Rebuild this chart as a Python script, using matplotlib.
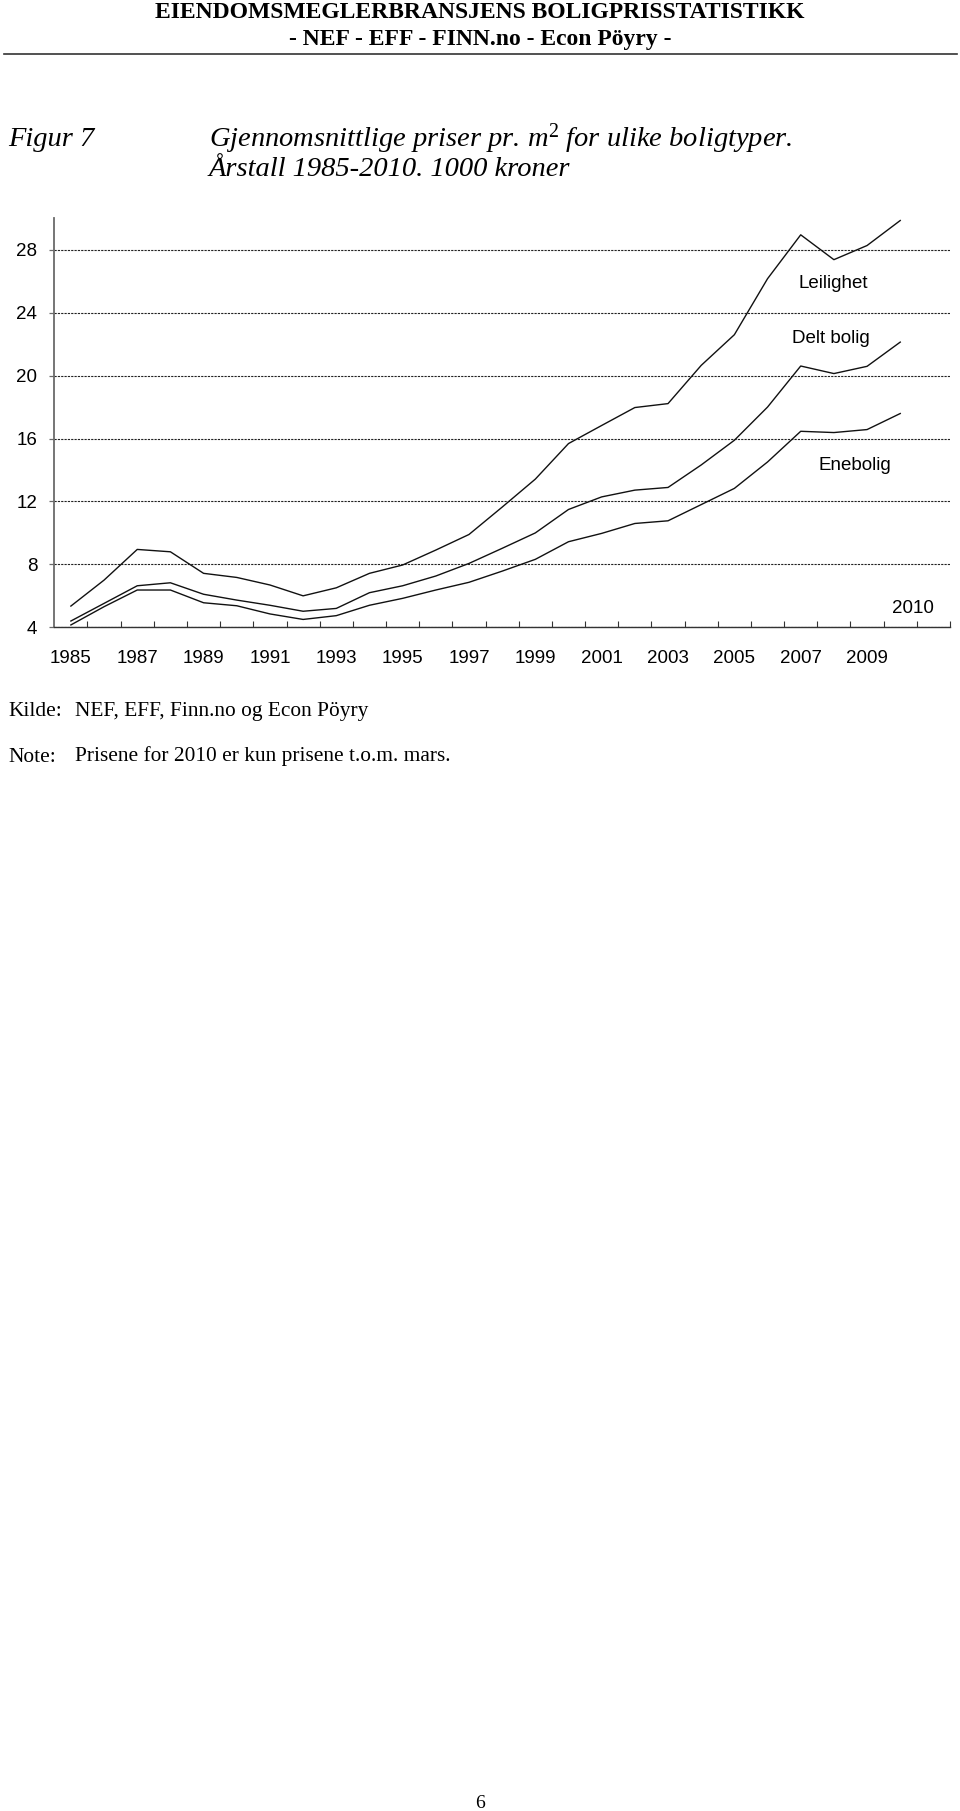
import numpy as np
import matplotlib
matplotlib.use("Agg")
import matplotlib.pyplot as plt

plt.rcParams['mathtext.fontset'] = 'custom'
plt.rcParams['mathtext.rm'] = 'Liberation Serif'
plt.rcParams['mathtext.it'] = 'Liberation Serif:italic'
plt.rcParams['mathtext.default'] = 'rm'

# data (1000 kr per m2)
years = list(range(1985, 2011))
leilighet = [5.35, 7.0, 8.95, 8.8, 7.43, 7.17, 6.69, 6.0, 6.51, 7.43, 7.96, 8.91, 9.9,
             11.64, 13.42, 15.68, 16.83, 17.97, 18.22, 20.65, 22.6, 26.16, 28.95, 27.37,
             28.27, 29.86]
delt_bolig = [4.4, 5.52, 6.64, 6.83, 6.1, 5.73, 5.40, 5.02, 5.2, 6.2, 6.64, 7.26, 8.06,
              9.02, 10.0, 11.49, 12.29, 12.72, 12.89, 14.32, 15.89, 18.0, 20.61, 20.13,
              20.59, 22.13]
enebolig = [4.15, 5.31, 6.37, 6.37, 5.56, 5.37, 4.85, 4.5, 4.74, 5.4, 5.84, 6.37, 6.86,
            7.57, 8.32, 9.44, 9.97, 10.6, 10.77, 11.8, 12.83, 14.51, 16.46, 16.38,
            16.57, 17.59]
yticks = [4, 8, 12, 16, 20, 24, 28]
xlabels = [str(y) for y in years[:-1:2]]

W, H = 960, 1811
fig = plt.figure(figsize=(W / 100, H / 100), dpi=100)

serif = 'Liberation Serif'
sans = 'Liberation Sans'

# page header
fig.text(0.5, 1 - 13 / H, 'EIENDOMSMEGLERBRANSJENS BOLIGPRISSTATISTIKK', ha='center',
         va='center', family=serif, weight='bold', fontsize=17)
fig.text(0.5, 1 - 39 / H, '- NEF - EFF - FINN.no - Econ Pöyry -', ha='center',
         va='center', family=serif, weight='bold', fontsize=17)
fig.add_artist(plt.Line2D([4 / W, 957 / W], [1 - 54 / H, 1 - 54 / H], color='#333333', lw=1.2))

# figure caption
fig.text(8 / W, 1 - 146.5 / H, 'Figur 7', ha='left', va='baseline', family=serif,
         style='italic', fontsize=20.5)
fig.text(209 / W, 1 - 146.5 / H, 'Gjennomsnittlige priser pr. m$^2$ for ulike boligtyper.',
         ha='left', va='baseline', family=serif, style='italic', fontsize=20.5)
fig.text(209 / W, 1 - 176.5 / H, 'Årstall 1985-2010. 1000 kroner', ha='left', va='baseline',
         family=serif, style='italic', fontsize=20.5)

# chart
ax = fig.add_axes([54.3 / W, 1 - 627.3 / H, (950 - 54.3) / W, (627.3 - 218.3) / H])
x = np.arange(len(years))
for s in (leilighet, delt_bolig, enebolig):
    ax.plot(x, s, color='#111111', lw=1.0)

ax.set_xlim(-0.5, len(years) + 0.5)
ax.set_ylim(4, 30)
ax.spines['top'].set_visible(False)
ax.spines['right'].set_visible(False)
ax.spines['left'].set_color('#6a6a6a')
ax.spines['left'].set_linewidth(1.3)
ax.spines['bottom'].set_color('#333333')
ax.spines['bottom'].set_linewidth(1.0)

ax.set_xticks(np.arange(0.5, len(years) + 1, 1))
ax.set_xticklabels([])
ax.tick_params(axis='x', which='major', direction='in', length=4.5, width=0.8, color='#333333')
ax.set_xticks(x[:-1:2], minor=True)
ax.set_xticklabels(xlabels, minor=True, family=sans, fontsize=13.5)
ax.tick_params(axis='x', which='minor', length=0, pad=16.5)

ax.set_yticks(yticks)
ax.set_yticklabels([str(v) for v in yticks], family=sans, fontsize=13.5)
ax.tick_params(axis='y', direction='out', length=3.8, width=0.9, color='#6a6a6a', pad=8.4)
ax.yaxis.grid(True, linestyle=(0, (2, 1)), color='#222222', lw=0.8)
ax.set_axisbelow(True)

ax.text(22.97, 25.84, 'Leilighet', ha='center', va='center', family=sans, fontsize=13.5)
ax.text(22.9, 22.35, 'Delt bolig', ha='center', va='center', family=sans, fontsize=13.5)
ax.text(23.63, 14.3, 'Enebolig', ha='center', va='center', family=sans, fontsize=13.5)
ax.text(25.37, 5.17, '2010', ha='center', va='center', family=sans, fontsize=13.5)

# source and note
fig.text(8 / W, 1 - 716 / H, 'Kilde:', ha='left', va='baseline', family=serif, fontsize=15.4)
fig.text(75 / W, 1 - 716 / H, 'NEF, EFF, Finn.no og Econ Pöyry', ha='left', va='baseline',
         family=serif, fontsize=15.4)
fig.text(8 / W, 1 - 761.5 / H, 'Note:', ha='left', va='baseline', family=serif, fontsize=15.4)
fig.text(75 / W, 1 - 761.5 / H, 'Prisene for 2010 er kun prisene t.o.m. mars.', ha='left',
         va='baseline', family=serif, fontsize=15.4)

fig.text(0.5, 1 - 1803 / H, '6', ha='center', va='center', family=serif, fontsize=14)

fig.savefig('out.png', dpi=100)
